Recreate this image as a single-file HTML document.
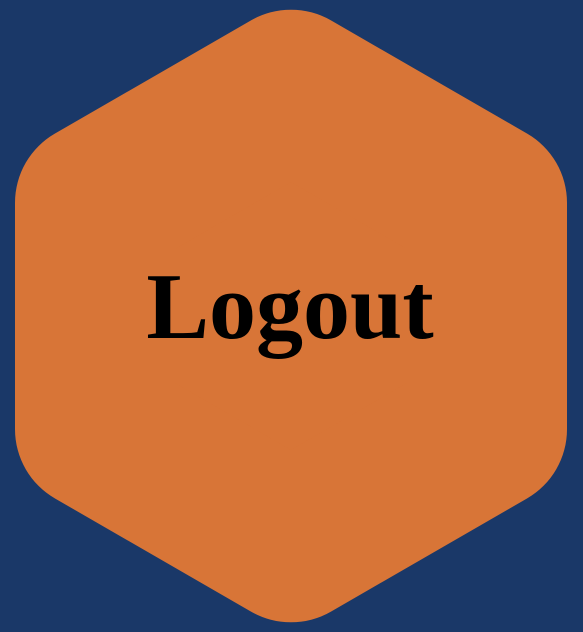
<!DOCTYPE html>
<html><head><meta charset="utf-8"><style>
html,body{margin:0;padding:0;background:#1a3868;}
body{width:583px;height:632px;overflow:hidden;position:relative;}
svg{position:absolute;left:0;top:0;}
</style></head><body>
<svg width="583" height="632">
<g>
<polygon id="hex" fill="#d87537" stroke="#d87537" stroke-width="160" stroke-linejoin="round"/>
<text x="290" y="338" text-anchor="middle" font-family="'Liberation Serif', serif" font-weight="bold" font-size="94" fill="#000">Logout</text>
</g>
</svg>
<script>
var cx=291, cy=316, R=318.7, r=80;
var Rp=R - r/Math.cos(Math.PI/6);
var pts=[];
for(var i=0;i<6;i++){var a=-Math.PI/2+i*Math.PI/3;pts.push((cx+Rp*Math.cos(a)).toFixed(1)+','+(cy+Rp*Math.sin(a)).toFixed(1));}
document.getElementById('hex').setAttribute('points',pts.join(' '));
</script>
</body></html>
